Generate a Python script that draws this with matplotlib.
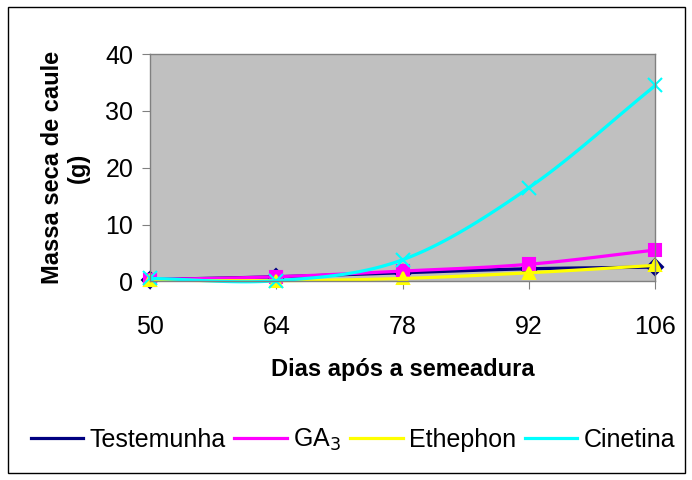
import numpy as np
import matplotlib
matplotlib.use("Agg")
import matplotlib.pyplot as plt
from matplotlib.patches import Rectangle

plt.rcParams['font.family'] = ['Liberation Sans', 'DejaVu Sans']

dias = [50, 64, 78, 92, 106]
testemunha = [0.3, 0.8, 1.5, 2.2, 2.5]
ga3 = [0.3, 0.8, 1.8, 3.0, 5.5]
ethephon = [0.2, 0.1, 0.5, 1.5, 2.8]
cinetina = [0.5, 0.1, 3.8, 16.5, 34.5]


def smooth(x, y, n=30):
    # catmull-rom, like excel "smoothed line"
    x = np.asarray(x, float)
    y = np.asarray(y, float)
    px = np.concatenate([[2 * x[0] - x[1]], x, [2 * x[-1] - x[-2]]])
    py = np.concatenate([[2 * y[0] - y[1]], y, [2 * y[-1] - y[-2]]])
    xs, ys = [], []
    t = np.linspace(0, 1, n)
    for i in range(1, len(px) - 2):
        for p, out in ((px, xs), (py, ys)):
            p0, p1, p2, p3 = p[i - 1], p[i], p[i + 1], p[i + 2]
            out.append(0.5 * (2 * p1 + (-p0 + p2) * t
                              + (2 * p0 - 5 * p1 + 4 * p2 - p3) * t ** 2
                              + (-p0 + 3 * p1 - 3 * p2 + p3) * t ** 3))
    return np.concatenate(xs), np.concatenate(ys)


fig = plt.figure(figsize=(6.92, 4.8), dpi=100)
ax = fig.add_axes([0.217, 0.414, 0.730, 0.473])
ax.set_facecolor('#C0C0C0')

series = [
    ('Testemunha', testemunha, '#000080', 'D'),
    ('GA$_3$', ga3, '#FF00FF', 's'),
    ('Ethephon', ethephon, '#FFFF00', '^'),
    ('Cinetina', cinetina, '#00FFFF', 'x'),
]
for name, vals, col, mk in series:
    sx, sy = smooth(dias, vals)
    ax.plot(sx, sy, color=col, lw=2.3, label=name, clip_on=False)
    ax.plot(dias, vals, linestyle='none', marker=mk, color=col,
            markersize=8 if mk != 'x' else 10, mew=1.5, clip_on=False)

ax.set_xlim(50, 106)
ax.set_ylim(0, 40)
ax.set_xticks(dias)
ax.set_yticks([0, 10, 20, 30, 40])
for s in ax.spines.values():
    s.set_color('#808080')
    s.set_linewidth(1)
ax.tick_params(axis='both', direction='out', color='#808080', length=6,
               labelsize=18)
ax.tick_params(axis='y', pad=6)
ax.tick_params(axis='x', pad=18)

ax.set_xlabel('Dias após a semeadura', fontsize=17, fontweight='bold', labelpad=14)
ax.set_ylabel('Massa seca de caule\n(g)', fontsize=17, fontweight='bold', labelpad=11)

fig.legend(loc='center', bbox_to_anchor=(0.51, 0.083), ncol=4, frameon=False,
           fontsize=18, handlelength=2.1, columnspacing=0.35, handletextpad=0.25)

fig.add_artist(Rectangle((0.012, 0.015), 0.978, 0.97, transform=fig.transFigure,
                         fill=False, edgecolor='black', lw=1))

fig.savefig('out.png', dpi=100)
